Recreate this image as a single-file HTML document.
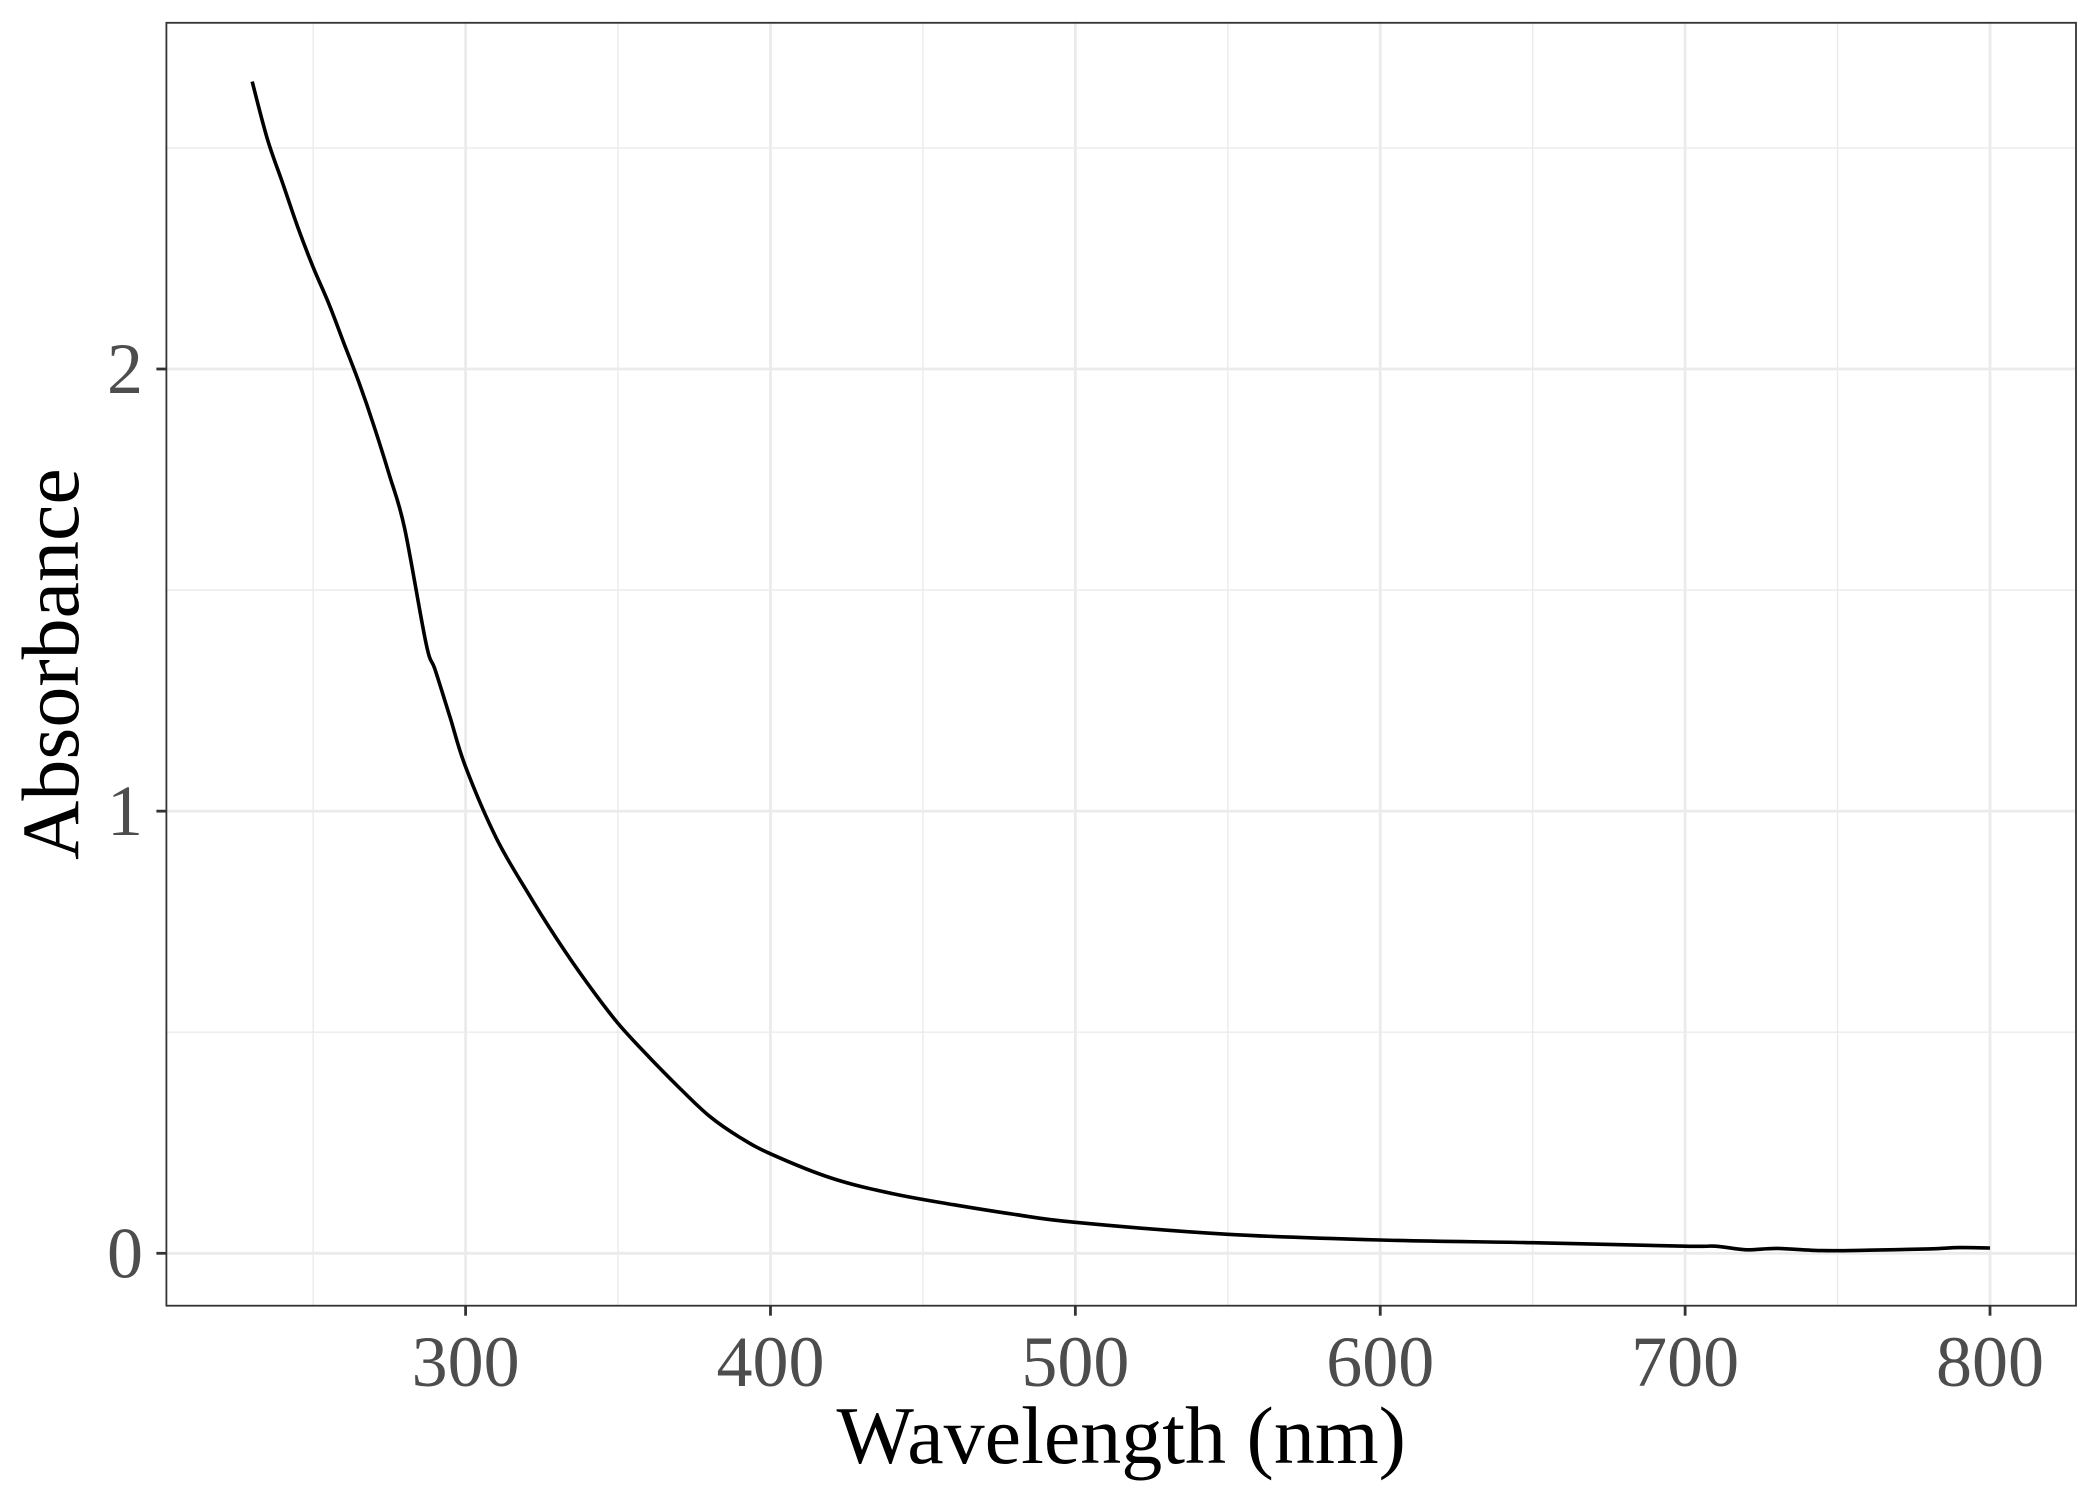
<!DOCTYPE html>
<html><head><meta charset="utf-8"><style>
html,body{margin:0;padding:0;background:#fff}
svg{display:block}
</style></head><body>
<svg id="chart" width="2100" height="1500" viewBox="0 0 2100 1500" xmlns="http://www.w3.org/2000/svg" font-family="'Liberation Serif', serif"></svg>
<script>
const wavelengths=[230,235,240,245,250,255,260,265,270,275,280,287,290,295,300,310,320,330,340,350,360,370,380,390,400,420,440,460,480,500,550,600,650,700,710,720,730,745,760,780,790,800];
const absorbance=[2.65,2.52,2.42,2.32,2.23,2.15,2.06,1.97,1.87,1.76,1.64,1.38,1.32,1.21,1.10,0.94,0.82,0.71,0.61,0.52,0.445,0.375,0.31,0.262,0.225,0.17,0.135,0.11,0.088,0.07,0.043,0.03,0.024,0.016,0.016,0.008,0.011,0.006,0.007,0.01,0.013,0.012];
const xTicks=[300,400,500,600,700,800];
const xMinor=[250,350,450,550,650,750];
const yTicks=[0,1,2];
const yMinor=[0.5,1.5,2.5];
const P={l:166.4,r:2076,t:22.8,b:1305.7};
const X=v=>465.6+(v-300)*(1990-465.6)/500;
const Y=v=>1253.3-v*(1253.3-369.0)/2;
const svg=document.getElementById('chart');
const NS='http://www.w3.org/2000/svg';
function mk(tag,attrs,parent){const e=document.createElementNS(NS,tag);for(const k in attrs)e.setAttribute(k,attrs[k]);(parent||svg).appendChild(e);return e;}
mk('rect',{x:P.l,y:P.t,width:P.r-P.l,height:P.b-P.t,fill:'#fff'});
xMinor.forEach(v=>{const l=mk('line',{x1:X(v),x2:X(v),y1:P.t,y2:P.b,stroke:'#ebebeb','stroke-width':1.4});

});
yMinor.forEach(v=>{const l=mk('line',{x1:P.l,x2:P.r,y1:Y(v),y2:Y(v),stroke:'#ebebeb','stroke-width':1.4});

});
xTicks.forEach(v=>{const l=mk('line',{x1:X(v),x2:X(v),y1:P.t,y2:P.b,stroke:'#ebebeb','stroke-width':2.8});


const t=mk('line',{x1:X(v),x2:X(v),y1:P.b,y2:P.b+10,stroke:'#333','stroke-width':2.8});


const tx=mk('text',{x:X(v),y:1386,'text-anchor':'middle','font-size':72,fill:'#4d4d4d'});tx.textContent=v;

});
yTicks.forEach(v=>{const l=mk('line',{x1:P.l,x2:P.r,y1:Y(v),y2:Y(v),stroke:'#ebebeb','stroke-width':2.8});


const t=mk('line',{x1:P.l-10,x2:P.l,y1:Y(v),y2:Y(v),stroke:'#333','stroke-width':2.8});


const tx=mk('text',{x:143,y:Y(v)+24,'text-anchor':'end','font-size':72,fill:'#4d4d4d'});tx.textContent=v;

});
const pts=wavelengths.map((w,i)=>[X(w),Y(absorbance[i])]);
let d='M'+pts[0][0].toFixed(1)+','+pts[0][1].toFixed(1);
for(let i=0;i<pts.length-1;i++){const p0=pts[Math.max(0,i-1)],p1=pts[i],p2=pts[i+1],p3=pts[Math.min(pts.length-1,i+2)];
const c1=[p1[0]+(p2[0]-p0[0])/6,p1[1]+(p2[1]-p0[1])/6],c2=[p2[0]-(p3[0]-p1[0])/6,p2[1]-(p3[1]-p1[1])/6];
d+='C'+c1.map(n=>n.toFixed(1))+' '+c2.map(n=>n.toFixed(1))+' '+p2.map(n=>n.toFixed(1));}
const path=mk('path',{d:d,fill:'none',stroke:'#000','stroke-width':3.6,'stroke-linejoin':'round'});


const frame=mk('rect',{x:P.l,y:P.t,width:P.r-P.l,height:P.b-P.t,fill:'none',stroke:'#333','stroke-width':1.8});


const xt=mk('text',{x:(P.l+P.r)/2,y:1463,'text-anchor':'middle','font-size':82,fill:'#000'});xt.textContent='Wavelength (nm)';


const yt=mk('text',{x:0,y:0,'text-anchor':'middle','font-size':82,fill:'#000',transform:'translate(78,664) rotate(-90)'});yt.textContent='Absorbance';


</script>
</body></html>
